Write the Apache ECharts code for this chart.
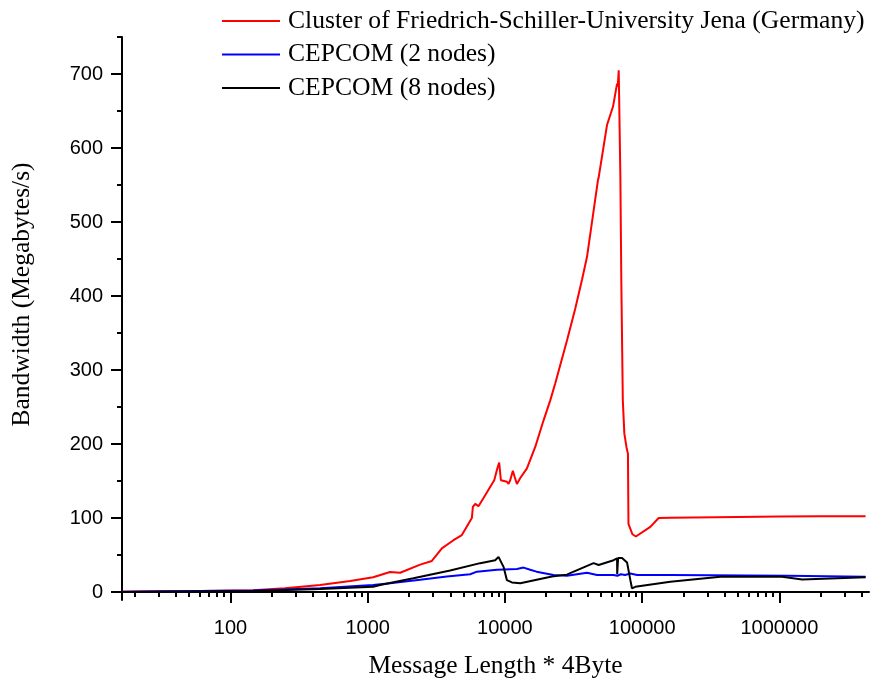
<!DOCTYPE html>
<html><head><meta charset="utf-8">
<script src="https://cdn.jsdelivr.net/npm/echarts@6/dist/echarts.min.js"></script>
<style>html,body{margin:0;padding:0;background:#fff}#c{width:870px;height:684px}</style>
</head><body><div id="c"></div>
<script>
const seriesNames = ['Cluster of Friedrich-Schiller-University Jena (Germany)', 'CEPCOM (2 nodes)', 'CEPCOM (8 nodes)'];
const seriesColors = ['#ff0000', '#0000ff', '#000000'];
const xAxisTitle = 'Message Length * 4Byte';
const yAxisTitle = 'Bandwidth (Megabytes/s)';

const jenaData = [[16.2,0.5],[30,1],[60,1.5],[146,2.5],[250,5],[450,9.5],[745,15],[1095,20],[1456,27],[1723,26],[2412,37],[2935,42],[3470,59],[4217,70],[4855,77],[5743,100],[5842,115],[6072,119],[6416,116],[6982,127],[8356,151],[8831,168],[9083,175],[9347,151],[10343,149],[10626,146],[10925,151],[11430,164],[11750,156],[12230,146],[12940,154],[14470,167],[16630,196],[19130,232],[21400,259],[23280,282],[28330,340],[32570,383],[36450,422],[39660,453],[47680,557],[48200,560],[55450,631],[61350,656],[65660,687],[66400,683],[67500,705],[68240,707],[69400,560],[70500,420],[72300,259],[74200,214],[77000,195],[78800,187],[79500,92],[81000,88],[85000,78],[90000,75],[114700,88],[132000,100],[160500,100.5],[500000,101.5],[1000000,102],[2000000,102.5],[4250000,102.5]];

const cepcom2Data = [[16.2,0.3],[146,2],[450,5],[1095,9.5],[1456,11.7],[2412,16.5],[3776,21],[5585,24],[6252,27.5],[8750,30],[12230,31],[13680,33],[14060,32],[15290,30],[17000,27.5],[22590,23],[28330,22],[39660,26],[46880,23],[61940,23],[66000,22],[70000,24],[75000,23],[82060,25],[91800,23],[160500,23],[1140000,22],[4250000,20.5]];

const cepcom8Data = [[16.2,0],[146,1.5],[450,4],[1095,7],[1231,9.5],[2154,18.5],[3990,29],[6604,39],[8496,43],[8980,47.5],[9770,34],[10343,16],[11250,13],[12940,11.7],[22000,21],[28330,23.5],[29900,25.5],[44280,39],[48170,36.5],[61940,43],[65660,45.5],[65800,24],[66600,24],[66800,46],[71360,46],[73300,45],[77600,40],[82060,16],[84300,5],[89100,7],[160500,14],[371700,20.7],[1047000,20.7],[1466000,17],[4250000,20]];

const xMajorTicks = [100, 1000, 10000, 100000, 1000000];
const xMinorTicks = [20,30,40,50,60,70,80,90,200,300,400,500,600,700,800,900,2000,3000,4000,5000,6000,7000,8000,9000,20000,30000,40000,50000,60000,70000,80000,90000,200000,300000,400000,500000,600000,700000,800000,900000,2000000,3000000,4000000];
const yMajorTicks = [0, 100, 200, 300, 400, 500, 600, 700];
const yMinorTicks = [50, 150, 250, 350, 450, 550, 650, 750];

const chart = echarts.init(document.getElementById('c'));
const black = '#000';
const serif = 'Liberation Serif';
const sans = 'Liberation Sans';
const XMIN = 16.2, XMAX = 4.5e6, YMIN = -10.8, YMAX = 750;

chart.setOption({
  animation: false,
  backgroundColor: '#fff',
  grid: { left: 122, right: 1, top: 37, bottom: 84 },
  legend: {
    orient: 'vertical', left: 222, top: 8, padding: 0,
    icon: 'rect', itemWidth: 58, itemHeight: 2, itemGap: 7.5,
    textStyle: { fontFamily: serif, fontSize: 25.6, color: black, padding: [0,0,0,3], lineHeight: 25 },
    data: seriesNames
  },
  xAxis: [
    {
      type: 'log', logBase: 10, min: XMIN, max: XMAX, position: 'bottom',
      axisLine: { lineStyle: { color: black, width: 2 } },
      axisTick: { customValues: xMajorTicks, length: 11, lineStyle: { color: black, width: 2 } },
      axisLabel: { customValues: xMajorTicks, fontFamily: sans, fontSize: 20, color: black, margin: 18,
        formatter: v => String(Math.round(v)) },
      splitLine: { show: false },
      name: xAxisTitle, nameLocation: 'middle', nameGap: 53,
      nameTextStyle: { fontFamily: serif, fontSize: 25.5, color: black }
    },
    {
      type: 'log', logBase: 10, min: XMIN, max: XMAX, position: 'bottom',
      axisLine: { show: false },
      axisTick: { customValues: xMinorTicks, length: 5, lineStyle: { color: black, width: 2 } },
      axisLabel: { show: false },
      splitLine: { show: false }
    }
  ],
  yAxis: [
    {
      type: 'value', min: YMIN, max: YMAX, position: 'left',
      axisLine: { show: true, lineStyle: { color: black, width: 2 } },
      axisTick: { show: true, customValues: yMajorTicks, length: 11, lineStyle: { color: black, width: 2 } },
      axisLabel: { customValues: yMajorTicks, fontFamily: sans, fontSize: 20, color: black, margin: 19 },
      splitLine: { show: false },
      name: yAxisTitle, nameLocation: 'middle', nameGap: 87, nameRotate: 90,
      nameTextStyle: { fontFamily: serif, fontSize: 25.5, color: black, padding: [0, 0, 0, 48] }
    },
    {
      type: 'value', min: YMIN, max: YMAX, position: 'left',
      axisLine: { show: false },
      axisTick: { show: true, customValues: yMinorTicks, length: 5, lineStyle: { color: black, width: 2 } },
      axisLabel: { show: false },
      splitLine: { show: false }
    }
  ],
  series: [
    { name: seriesNames[0], type: 'line', data: jenaData, symbol: 'none', color: seriesColors[0], lineStyle: { width: 2, color: seriesColors[0] } },
    { name: seriesNames[1], type: 'line', data: cepcom2Data, symbol: 'none', color: seriesColors[1], lineStyle: { width: 2, color: seriesColors[1] } },
    { name: seriesNames[2], type: 'line', data: cepcom8Data, symbol: 'none', color: seriesColors[2], lineStyle: { width: 2, color: seriesColors[2] } }
  ]
});
</script>
</body></html>
